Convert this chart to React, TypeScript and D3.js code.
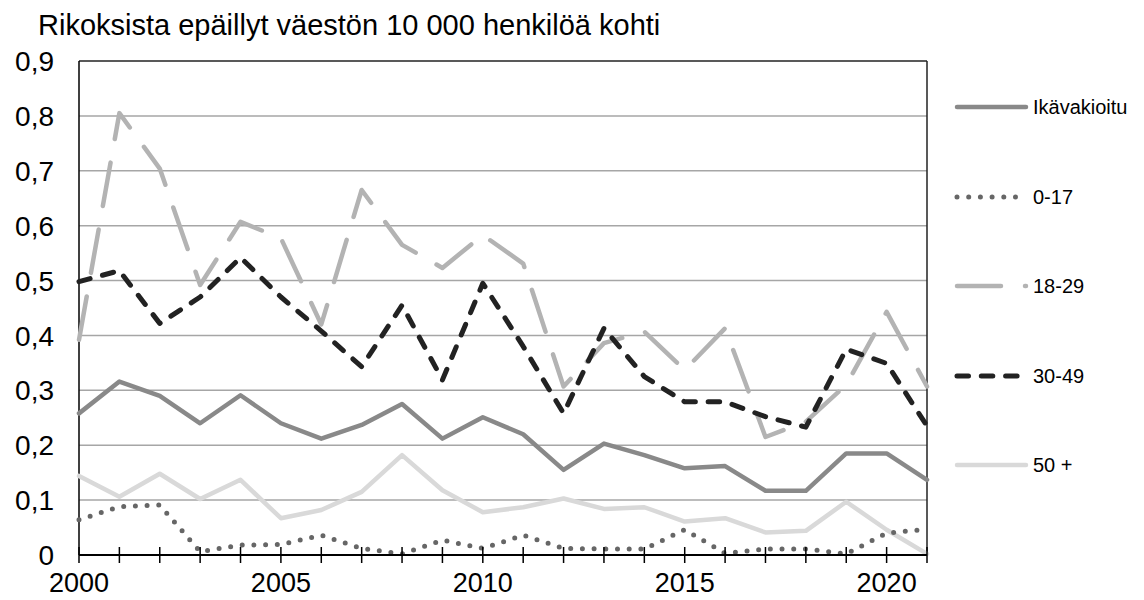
import React from "react";
import * as d3 from "d3";

const years = d3.range(2000, 2022);
const yTicks = [0, 0.1, 0.2, 0.3, 0.4, 0.5, 0.6, 0.7, 0.8, 0.9];
const xLabelYears = [2000, 2005, 2010, 2015, 2020];

const ikavakioitu = [0.258, 0.316, 0.29, 0.24, 0.291, 0.24, 0.212, 0.237, 0.275, 0.212, 0.251, 0.22, 0.155, 0.203, 0.182, 0.158, 0.162, 0.117, 0.117, 0.185, 0.185, 0.137];
const age0_17 = [0.064, 0.088, 0.091, 0.006, 0.018, 0.019, 0.036, 0.012, 0.002, 0.027, 0.012, 0.036, 0.012, 0.011, 0.011, 0.046, 0.003, 0.011, 0.011, 0.002, 0.04, 0.047];
const age18_29 = [0.392, 0.805, 0.704, 0.492, 0.607, 0.577, 0.42, 0.665, 0.565, 0.523, 0.583, 0.531, 0.307, 0.386, 0.407, 0.337, 0.413, 0.215, 0.243, 0.31, 0.443, 0.307];
const age30_49 = [0.498, 0.518, 0.422, 0.47, 0.542, 0.47, 0.408, 0.343, 0.455, 0.319, 0.495, 0.38, 0.258, 0.413, 0.325, 0.279, 0.279, 0.252, 0.233, 0.375, 0.349, 0.235];
const age50plus = [0.144, 0.106, 0.148, 0.102, 0.137, 0.067, 0.082, 0.115, 0.182, 0.118, 0.078, 0.087, 0.103, 0.084, 0.087, 0.061, 0.067, 0.041, 0.044, 0.097, 0.046, 0.002];

const seriesNames = ["Ikävakioitu", "0-17", "18-29", "30-49", "50 +"];
const seriesValues = [ikavakioitu, age0_17, age18_29, age30_49, age50plus];

const styles = [
  { color: "#898989", width: 4.5, dash: undefined as string | undefined },
  { color: "#666666", width: 5, dash: "0 11.7" },
  { color: "#b3b3b3", width: 4.5, dash: "44 24" },
  { color: "#222222", width: 5, dash: "11.5 12.8" },
  { color: "#d9d9d9", width: 4.5, dash: undefined as string | undefined },
];
const legendY = [107, 197, 286, 376, 465];

const L = 79, R = 927, T = 61, B = 555;

export default function App() {
  const x = d3.scaleLinear().domain([2000, 2021]).range([L, R]);
  const y = d3.scaleLinear().domain([0, 0.9]).range([B, T]);
  const line = d3.line<number>().x((_, i) => x(years[i])).y((d) => y(d));
  const font = "'Liberation Sans', Arial, sans-serif";
  const order = [4, 0, 1, 2, 3];
  return (
    <svg width={1144} height={600} style={{ position: "absolute", left: 0, top: 0, background: "#fff" }} fontFamily={font}>
      <text x={38} y={35} fontSize={29} fill="#000">Rikoksista epäillyt väestön 10 000 henkilöä kohti</text>
      {yTicks.map((t) => (
        <g key={t}>
          {t > 0 && t < 0.9 && <line x1={L} x2={R} y1={y(t)} y2={y(t)} stroke="#a6a6a6" strokeWidth={1.5} />}
          <text x={54} y={y(t)} dy="0.36em" fontSize={28} textAnchor="end" fill="#000">{d3.format(".1f")(t).replace(".", ",").replace(/^0,0$/, "0")}</text>
        </g>
      ))}
      <line x1={L} x2={R} y1={T} y2={T} stroke="#222" strokeWidth={1.5} />
      <line x1={R} x2={R} y1={T} y2={B} stroke="#222" strokeWidth={1.5} />
      <line x1={L} x2={L} y1={T} y2={B} stroke="#000" strokeWidth={1.5} />
      {order.map((si) => (
        <path key={si} d={line(seriesValues[si]) || ""} fill="none" stroke={styles[si].color} strokeWidth={styles[si].width}
          strokeDasharray={styles[si].dash} strokeLinecap="round" strokeLinejoin="round" />
      ))}
      <line x1={L} x2={R} y1={B} y2={B} stroke="#000" strokeWidth={2} />
      {years.map((yr) => (
        <line key={yr} x1={x(yr)} x2={x(yr)} y1={B - 8} y2={B + 8} stroke="#000" strokeWidth={1.5} />
      ))}
      {xLabelYears.map((yr) => (
        <text key={yr} x={x(yr)} y={592} fontSize={27} textAnchor="middle" fill="#000">{yr}</text>
      ))}
      {seriesNames.map((n, i) => (
        <g key={n}>
          <line x1={957} x2={1026} y1={legendY[i]} y2={legendY[i]} stroke={styles[i].color} strokeWidth={styles[i].width}
            strokeDasharray={styles[i].dash} strokeLinecap="round" />
          <text x={1033} y={legendY[i]} dy="0.36em" fontSize={20} fill="#000">{n}</text>
        </g>
      ))}
    </svg>
  );
}
